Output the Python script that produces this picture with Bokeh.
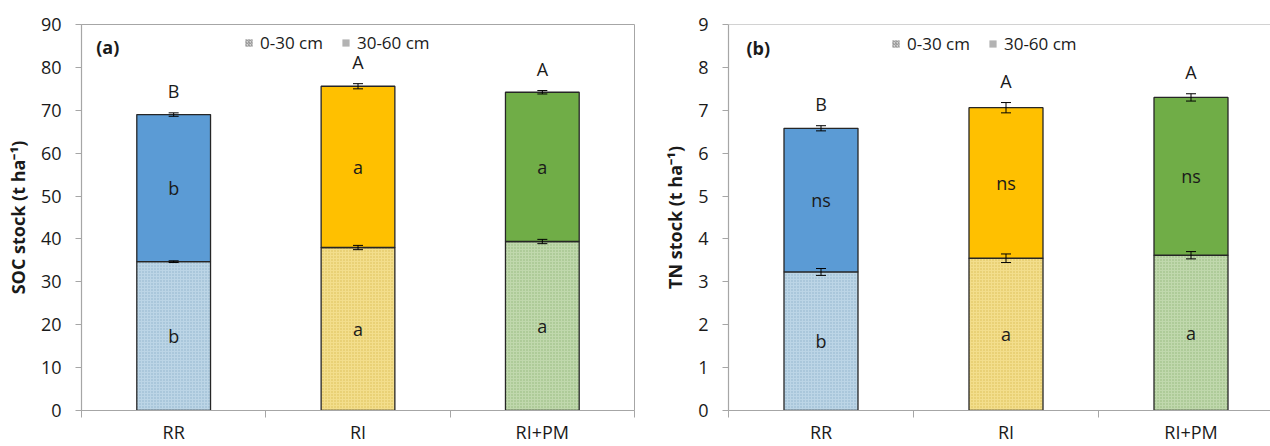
from bokeh.plotting import figure
from bokeh.layouts import row
from bokeh.models import (Range1d, FixedTicker, Whisker, TeeHead, ColumnDataSource,
                          Legend, LegendItem, Label, Span)
from bokeh.embed import file_html
from bokeh.resources import INLINE
from bokeh.core.properties import value

# ---------------- data ----------------
categories = ["RR", "RI", "RI+PM"]

soc_0_30 = [34.7, 38.0, 39.4]
soc_total = [69.0, 75.6, 74.2]
soc_0_30_err = [0.2, 0.5, 0.5]
soc_total_err = [0.4, 0.6, 0.4]
soc_top_letters = ["B", "A", "A"]
soc_upper_letters = ["b", "a", "a"]
soc_lower_letters = ["b", "a", "a"]
soc_ticks = [0, 10, 20, 30, 40, 50, 60, 70, 80, 90]

tn_0_30 = [3.23, 3.55, 3.62]
tn_total = [6.58, 7.06, 7.30]
tn_0_30_err = [0.08, 0.10, 0.085]
tn_total_err = [0.06, 0.12, 0.085]
tn_top_letters = ["B", "A", "A"]
tn_upper_letters = ["ns", "ns", "ns"]
tn_lower_letters = ["b", "a", "a"]
tn_ticks = [0, 1, 2, 3, 4, 5, 6, 7, 8, 9]

legend_labels = ["0-30 cm", "30-60 cm"]

upper_colors = ["#5b9bd5", "#ffc000", "#70ad47"]
lower_colors = ["#bcd5e6", "#f3de8c", "#c0d8ad"]
lower_hatch = ["#8db2cb", "#d8bd55", "#92b67a"]

FONT = "Open Sans"
TXT = "#1a1a1a"
AX = "#a6a6a6"


def panel(title, ylabel, lower, total, lower_err, total_err, top_l, up_l, lo_l,
          ticks, ymax, width, border_left, border_right, border_top, border_bottom,
          x_end, full_outline, tag_xy, legend_loc):
    p = figure(width=width, height=446, output_backend="svg", toolbar_location=None,
               x_range=Range1d(0, x_end), y_range=Range1d(0, ymax),
               min_border_left=border_left, min_border_right=border_right,
               min_border_top=border_top, min_border_bottom=border_bottom)
    p.xgrid.visible = False
    p.ygrid.visible = False
    p.outline_line_color = AX if full_outline else None
    p.background_fill_color = "white"
    p.border_fill_color = "white"

    xs = [i + 0.5 for i in range(len(categories))]
    src = ColumnDataSource(dict(
        x=xs, lower=lower, total=total,
        lmid=[v / 2 for v in lower],
        umid=[(a + b) / 2 for a, b in zip(lower, total)],
        lo_up=[v + e for v, e in zip(lower, lower_err)],
        lo_lo=[v - e for v, e in zip(lower, lower_err)],
        to_up=[v + e for v, e in zip(total, total_err)],
        to_lo=[v - e for v, e in zip(total, total_err)],
        upc=upper_colors, loc=lower_colors, loh=lower_hatch,
        top_l=top_l, up_l=up_l, lo_l=lo_l,
    ))

    p.vbar(x="x", bottom=0, top="lower", width=0.4, source=src,
           fill_color="loc", line_color="#262626", line_width=1.3,
           hatch_pattern="dot", hatch_color="loh", hatch_scale=3, hatch_weight=1)
    p.vbar(x="x", bottom="lower", top="total", width=0.4, source=src,
           fill_color="upc", line_color="#262626", line_width=1.3)

    for up, lo in (("lo_up", "lo_lo"), ("to_up", "to_lo")):
        w = Whisker(source=src, base="x", upper=up, lower=lo, level="annotation",
                    line_color="black", line_width=1,
                    upper_head=TeeHead(size=10, line_color="black", line_width=1),
                    lower_head=TeeHead(size=10, line_color="black", line_width=1))
        p.add_layout(w)

    common = dict(source=src, text_align="center", text_font=value(FONT),
                  text_font_size="18px", text_color=TXT)
    p.text(x="x", y="lmid", text="lo_l", text_baseline="middle", **common)
    p.text(x="x", y="umid", text="up_l", text_baseline="middle", **common)
    p.text(x="x", y="to_up", text="top_l", text_baseline="bottom", y_offset=-10, **common)

    # panel tag
    p.add_layout(Label(x=tag_xy[0], y=tag_xy[1], text=title, text_font=FONT,
                       text_font_size="18px", text_font_style="bold", text_color=TXT,
                       text_baseline="middle"))

    if not full_outline:
        p.add_layout(Span(location=ymax, dimension="width", line_color=AX, line_width=1.2))

    # axes
    p.yaxis.ticker = FixedTicker(ticks=ticks, minor_ticks=[])
    p.yaxis.axis_label = ylabel
    p.yaxis.axis_label_text_font = FONT
    p.yaxis.axis_label_text_font_style = "bold"
    p.yaxis.axis_label_text_font_size = "18px"
    p.yaxis.axis_label_text_color = TXT
    p.yaxis.axis_label_standoff = 8
    p.yaxis.major_label_text_font = FONT
    p.yaxis.major_label_text_font_size = "18px"
    p.yaxis.major_label_text_color = TXT
    p.yaxis.major_tick_out = 6
    p.yaxis.major_tick_in = 0
    p.yaxis.major_label_standoff = 14
    p.yaxis.axis_line_color = AX
    p.yaxis.major_tick_line_color = AX
    p.yaxis.axis_line_width = 1.2

    p.xaxis.axis_label = None
    p.xaxis.ticker = FixedTicker(ticks=xs, minor_ticks=list(range(len(categories) + 1)))
    p.xaxis.major_label_overrides = {x: c for x, c in zip(xs, categories)}
    p.xaxis.major_label_text_font = FONT
    p.xaxis.major_label_text_font_size = "18px"
    p.xaxis.major_label_text_color = TXT
    p.xaxis.major_label_text_line_height = 0.9
    p.xaxis.major_label_standoff = 2
    p.xaxis.major_tick_out = 0
    p.xaxis.major_tick_in = 0
    p.xaxis.minor_tick_out = 7
    p.xaxis.minor_tick_in = 0
    p.xaxis.minor_tick_line_color = AX
    p.xaxis.axis_line_color = AX
    p.xaxis.axis_line_width = 1.2

    # legend (proxy renderers placed outside the visible x range)
    r1 = p.vbar(x=[-5], top=[1], width=0.1, fill_color="#d6d6d6", line_color=None,
                hatch_pattern="/", hatch_color="#8a8a8a", hatch_scale=3, hatch_weight=1)
    r2 = p.vbar(x=[-5], top=[1], width=0.1, fill_color="#b3b3b3", line_color=None)
    lg = Legend(items=[LegendItem(label=legend_labels[0], renderers=[r1]),
                       LegendItem(label=legend_labels[1], renderers=[r2])],
                orientation="horizontal", location=legend_loc,
                glyph_width=9, glyph_height=9, label_standoff=7, spacing=18,
                padding=0, margin=0, border_line_color=None, background_fill_alpha=0,
                label_text_font=FONT, label_text_font_size="17px", label_text_color=TXT)
    p.add_layout(lg)
    return p


pa = panel("(a)", "SOC stock (t ha\u207b\u00b9)", soc_0_30, soc_total, soc_0_30_err,
           soc_total_err, soc_top_letters, soc_upper_letters, soc_lower_letters,
           soc_ticks, 90, 640, 81, 6, 22, 35, 3, True, (0.08, 84.8), (163, 356))
pb = panel("(b)", "TN stock (t ha\u207b\u00b9)", tn_0_30, tn_total, tn_0_30_err,
           tn_total_err, tn_top_letters, tn_upper_letters, tn_lower_letters,
           tn_ticks, 9, 630, 88, 0, 24, 34, 542 / 185, False, (0.097, 8.45), (163, 355))

layout = row(pa, pb, spacing=0)
open("out.html", "w").write(file_html(layout, INLINE))
